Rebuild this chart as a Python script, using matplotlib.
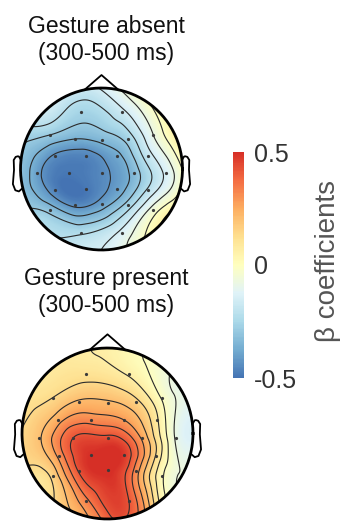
import numpy as np
import matplotlib
matplotlib.use("Agg")
import matplotlib as mpl
import matplotlib.pyplot as plt
import matplotlib.tri as mtri
from matplotlib.colors import LinearSegmentedColormap, Normalize
from matplotlib.patches import Circle

plt.rcParams['font.family'] = ['Liberation Sans', 'DejaVu Sans']

# electrode layout, head radius = 1 (Fp1 Fp2 F7 F3 Fz F4 F8 FC5 FC1 FC2 FC6
# T7 C3 Cz C4 T8 CP5 CP1 CP2 CP6 P7 P3 Pz P4 P8 O1 O2)
elec_x = [-0.25, 0.25, -0.64, -0.33, 0.0, 0.33, 0.64, -0.58, -0.19, 0.19, 0.58,
          -0.80, -0.40, 0.0, 0.40, 0.80, -0.57, -0.19, 0.19, 0.57,
          -0.64, -0.33, 0.0, 0.33, 0.64, -0.25, 0.25]
elec_y = [0.70, 0.70, 0.42, 0.37, 0.36, 0.37, 0.42, 0.16, 0.16, 0.16, 0.16,
          -0.05, -0.05, -0.05, -0.05, -0.05, -0.26, -0.25, -0.25, -0.26,
          -0.50, -0.44, -0.43, -0.44, -0.50, -0.79, -0.79]

# beta coefficients
absent_vals = [-0.26, -0.17, -0.29, -0.36, -0.34, -0.26, -0.08, -0.44, -0.46, -0.38, -0.18,
               -0.40, -0.49, -0.45, -0.33, -0.13, -0.47, -0.49, -0.40, -0.21,
               -0.32, -0.45, -0.40, -0.26, -0.05, -0.23, -0.13]
present_vals = [0.11, 0.06, 0.14, 0.22, 0.22, 0.16, -0.01, 0.25, 0.32, 0.28, 0.08,
                0.20, 0.42, 0.44, 0.27, -0.08, 0.30, 0.50, 0.48, 0.13,
                0.16, 0.43, 0.51, 0.32, 0.01, 0.33, 0.42]

# values at the head rim, every 30 degrees counterclockwise from the right ear
rim_angles = [0, 30, 60, 90, 120, 150, 180, 210, 240, 270, 300, 330]
absent_rim = [0.06, 0.09, 0.01, -0.11, -0.13, -0.22, -0.29, -0.27, -0.21, -0.15, 0.0, 0.09]
present_rim = [-0.13, -0.10, -0.02, 0.06, 0.08, 0.10, 0.12, 0.11, 0.17, 0.36, 0.16, -0.07]

absent_levels = [-0.43, -0.36, -0.29, -0.22, -0.15, -0.08, -0.01, 0.06]
present_levels = [-0.07, 0.0, 0.07, 0.14, 0.21, 0.28, 0.35, 0.42]

titles = ["Gesture absent\n(300-500 ms)", "Gesture present\n(300-500 ms)"]
cbar_ticks = [-0.5, 0, 0.5]
cbar_ticklabels = ["-0.5", "0", "0.5"]

W, H = 344, 522
cmap = LinearSegmentedColormap.from_list(
    "rdylbu_cut", plt.get_cmap("RdYlBu_r")(np.linspace(0.1, 0.9, 256)))
norm = Normalize(-0.5, 0.5)

fig = plt.figure(figsize=(W / 100, H / 100), dpi=100)


def head_axes(cx, cy, r):
    # axes in pixel terms so that the head has radius r px around (cx, cy)
    ext = 1.3
    ax = fig.add_axes([(cx - ext * r) / W, (H - cy - ext * r) / H,
                       2 * ext * r / W, 2 * ext * r / H])
    ax.set_xlim(-ext, ext)
    ax.set_ylim(-ext, ext)
    ax.axis('off')
    return ax


def topomap(ax, vals, rim, levels):
    rad = np.deg2rad(rim_angles)
    px = np.concatenate([elec_x, 1.08 * np.cos(rad)])
    py = np.concatenate([elec_y, 1.08 * np.sin(rad)])
    pv = np.concatenate([vals, rim])
    tri = mtri.Triangulation(px, py)
    interp = mtri.CubicTriInterpolator(tri, pv, kind='min_E')
    g = np.linspace(-1.02, 1.02, 300)
    gx, gy = np.meshgrid(g, g)
    gz = interp(gx, gy)

    clip = Circle((0, 0), 1.0, transform=ax.transData)
    im = ax.imshow(gz, extent=(-1.02, 1.02, -1.02, 1.02), origin='lower',
                   cmap=cmap, norm=norm, interpolation='bilinear')
    im.set_clip_path(clip)
    cs = ax.contour(gx, gy, gz, levels=levels, colors='#2b2b2b',
                    linewidths=0.8, linestyles='solid')
    cs.set_clip_path(clip)
    ax.plot(elec_x, elec_y, '.', color='#3a3a3a', markersize=2.6)

    # head outline, nose and ears
    t = np.linspace(0, 2 * np.pi, 200)
    ax.plot(np.cos(t), np.sin(t), color='k', lw=2.0)
    dx, dy = np.cos(1.3598), np.sin(1.3598)
    ax.plot([-dx, 0, dx], [dy, 1.16, dy], color='k', lw=1.3)
    ear_x = np.array([.497, .510, .518, .5299, .5419, .54, .547, .532, .510, .489]) * 2
    ear_y = np.array([.0555, .0775, .0783, .0746, .0555, -.0055, -.0932, -.1313, -.1384, -.1199]) * 2
    ax.plot(ear_x, ear_y, color='k', lw=1.3)
    ax.plot(-ear_x, ear_y, color='k', lw=1.3)


ax1 = head_axes(101.5, 169, 81)
topomap(ax1, absent_vals, absent_rim, absent_levels)
ax2 = head_axes(107.5, 433.5, 85.5)
topomap(ax2, present_vals, present_rim, present_levels)

fig.text(106 / W, 1 - 40 / H, titles[0], ha='center', va='center',
         fontsize=16.5, color='#111111', linespacing=1.2)
fig.text(106 / W, 1 - 292 / H, titles[1], ha='center', va='center',
         fontsize=16.5, color='#111111', linespacing=1.2)

cax = fig.add_axes([233 / W, (H - 378) / H, 11 / W, 226 / H])
cb = mpl.colorbar.ColorbarBase(cax, cmap=cmap, norm=norm, ticks=cbar_ticks)
cb.set_ticklabels(cbar_ticklabels)
cb.outline.set_visible(False)
cax.tick_params(length=0, pad=7, labelsize=18, labelcolor='#333333')
fig.text(328 / W, 1 - 261 / H, "\u03b2 coefficients", rotation=90,
         ha='center', va='center', fontsize=20, color='#555555')

fig.savefig("out.png", dpi=100)
